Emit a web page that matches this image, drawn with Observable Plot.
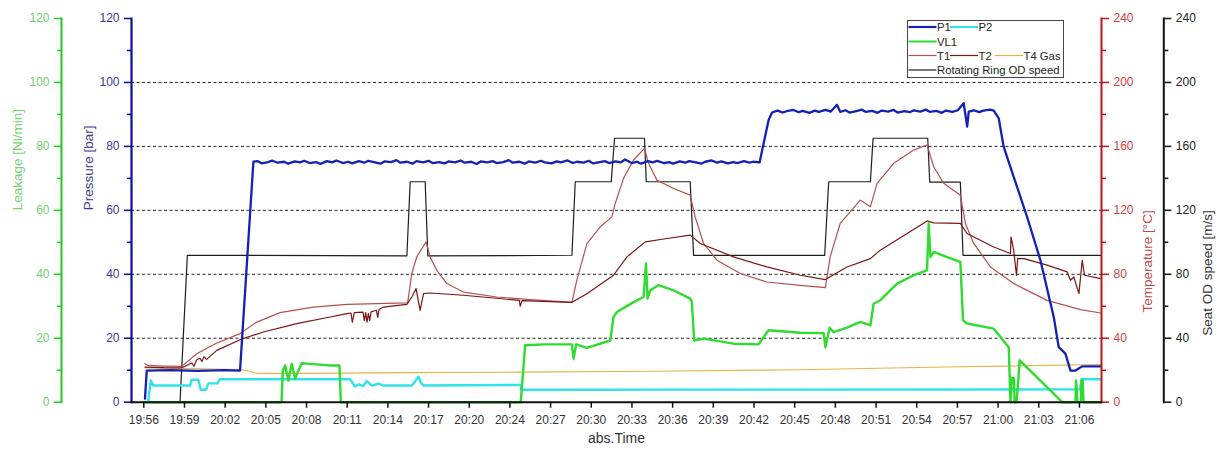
<!DOCTYPE html>
<html><head><meta charset="utf-8">
<script src="https://cdn.jsdelivr.net/npm/d3@7"></script>
<script src="https://cdn.jsdelivr.net/npm/@observablehq/plot@0.6"></script>
<style>
html,body{margin:0;padding:0;background:#fff;}
#wrap{position:relative;width:1217px;height:450px;overflow:hidden;font-family:"Liberation Sans",Arial,sans-serif;}
#legend{position:absolute;left:907px;top:20px;width:155px;height:56px;border:1px solid #444;background:#fff;}
#legend svg{display:block;}
</style></head>
<body><div id="wrap"><div id="chart"></div><div id="legend"></div></div>
<script>
// ---- tick labels / axis values ----
const xTickLabels = ["19:56","19:59","20:02","20:05","20:08","20:11","20:14","20:17","20:20","20:24","20:27","20:30","20:33","20:36","20:39","20:42","20:45","20:48","20:51","20:54","20:57","21:00","21:03","21:06"];
const tickStep = 70 / 23; // minutes between labelled ticks (19:56 → 21:06 in 23 intervals)
const xDomain = [-0.92, 71.65]; // minutes after 19:56
const pressureTicks = [0,20,40,60,80,100,120];
const leakageTicks = [0,20,40,60,80,100,120];
const temperatureTicks = [0,40,80,120,160,200,240];
const speedTicks = [0,40,80,120,160,200,240];
const gridLevels = [20,40,60,80,100];

// ---- series: [minutes after 19:56, value] ----
const p1 = [[0.09,1.1],[0.22,9.9],[2,10.0],[4,9.8],[6,10.0],[7.2,9.9],[8.2,75.2],[8.5,75.4],[8.8,74.7],[9.3,75.1],[9.6,75.6],[10.0,74.9],[10.5,75.2],[10.8,74.6],[11.3,75.3],[11.7,75.0],[12.0,75.5],[12.4,74.8],[12.9,75.1],[13.2,74.5],[13.7,75.4],[14.1,75.0],[14.4,75.6],[14.9,74.8],[15.3,75.2],[15.6,74.7],[16.1,75.4],[16.5,74.9],[16.8,75.5],[17.3,75.0],[17.7,74.6],[18.0,75.3],[18.5,75.1],[18.9,75.7],[19.2,74.9],[19.7,75.2],[20.1,74.6],[20.4,75.4],[20.9,75.0],[21.3,75.5],[21.6,74.8],[22.1,75.1],[22.5,74.7],[22.8,75.3],[23.3,75.0],[23.7,75.6],[24.0,74.9],[24.5,75.2],[24.9,74.5],[25.2,75.3],[25.7,75.0],[26.1,75.4],[26.4,74.8],[26.9,75.1],[27.3,75.7],[27.6,74.9],[28.1,75.2],[28.5,74.6],[28.8,75.3],[29.3,74.9],[29.7,75.5],[30.0,75.0],[30.5,74.7],[30.9,75.3],[31.2,75.0],[31.7,75.6],[32.1,74.8],[32.4,75.2],[32.9,74.9],[33.3,75.5],[33.6,74.7],[34.1,75.1],[34.5,75.4],[34.8,74.8],[35.3,75.3],[35.7,75.0],[36.0,75.9],[36.5,74.8],[36.9,75.2],[37.2,74.6],[37.7,75.4],[38.1,75.0],[38.4,75.5],[38.9,74.8],[39.3,75.1],[39.6,74.6],[40.1,75.3],[40.5,74.9],[40.8,75.4],[41.3,75.0],[41.7,74.6],[42.0,75.2],[42.5,75.6],[42.9,74.9],[43.2,75.3],[43.7,74.7],[44.1,75.1],[44.4,74.8],[44.9,75.4],[45.3,74.9],[45.6,75.2],[46.07,75.0],[46.75,88.3],[47.0,90.6],[47.4,91.2],[47.8,90.6],[48.1,91.0],[48.6,91.4],[49.0,90.7],[49.3,91.1],[49.8,90.5],[50.2,91.2],[50.5,90.8],[51.0,91.4],[51.4,90.9],[51.86,93.0],[52.1,90.8],[52.5,91.3],[52.8,90.6],[53.3,91.0],[53.7,91.5],[54.0,90.8],[54.5,91.1],[54.9,90.5],[55.2,91.2],[55.7,90.9],[56.1,91.4],[56.4,90.6],[56.9,91.0],[57.3,90.7],[57.6,91.3],[58.1,90.9],[58.5,91.5],[58.8,90.8],[59.3,91.1],[59.7,90.5],[60.0,91.2],[60.5,90.8],[60.9,91.3],[61.34,93.5],[61.6,86.2],[61.72,90.9],[62.1,91.3],[62.5,90.7],[62.8,91.2],[63.3,91.5],[63.59,91.2],[63.96,88.8],[64.33,79.9],[65.08,70.5],[66.08,58.0],[67.08,44.4],[68.08,26.6],[68.45,17.2],[68.95,15.2],[69.33,9.9],[69.7,9.9],[70.2,11.2],[71.6,11.2]];
const p2 = [[0.34,0.5],[0.52,6.8],[0.71,5.2],[3.46,5.2],[3.58,7.0],[4.08,7.0],[4.26,3.9],[4.66,3.9],[4.83,5.9],[5.5,5.9],[5.7,7.2],[15.43,7.2],[15.8,4.9],[16.1,5.6],[16.4,5.0],[16.68,6.6],[17.06,5.2],[17.55,5.8],[17.93,5.2],[20.05,5.2],[20.3,6.5],[20.55,8.0],[20.75,6.0],[20.92,5.2],[28.2,5.4],[28.25,3.9],[69.4,4.0],[70.05,4.0],[70.15,7.2],[71.6,7.2]];
const vl1 = [[0.1,0],[10.3,0],[10.4,9.9],[10.57,11.5],[10.82,6.8],[11.07,12.0],[11.32,7.3],[11.57,9.9],[11.82,12.2],[12.44,12.0],[13.94,11.5],[14.64,11.5],[14.74,0],[28.2,0],[28.53,17.8],[30,18.1],[32.03,18.1],[32.15,13.6],[32.35,18.1],[33.15,17.0],[34.9,19.3],[35.14,26.6],[35.4,28.2],[36.64,31.3],[37.39,32.9],[37.57,43.4],[37.69,32.4],[37.89,35.0],[38.51,36.6],[39.63,35.0],[40.88,32.4],[41.0,31.3],[41.18,19.3],[41.88,19.9],[44.12,18.3],[45.99,18.1],[46.74,22.5],[49.12,21.7],[50.86,21.6],[50.99,17.2],[51.31,23.3],[51.61,21.9],[52.61,23.3],[53.61,25.1],[54.36,24.0],[54.6,30.8],[55.1,31.9],[56.36,37.1],[57.6,39.7],[58.6,41.3],[58.72,55.9],[58.85,45.4],[59.1,47.0],[60.1,45.4],[61.09,43.9],[61.29,25.6],[61.59,24.6],[63.59,23.0],[64.09,20.4],[64.71,17.2],[64.84,0],[64.95,7.5],[65.1,7.5],[65.15,0],[65.3,0],[65.53,13.1],[68.6,0.5],[68.7,0],[69.7,0],[69.75,6.8],[69.85,0],[70.1,0],[70.15,6.8],[70.25,6.8],[70.3,0],[71.6,0]];
const t1 = [[0.09,24.1],[0.3,23],[1.5,22.6],[2.84,22.4],[3.96,30.3],[5.46,37.0],[7.2,42.9],[8.45,50.1],[10.19,56.0],[12.69,59.5],[15.19,61.2],[19.68,62.1],[19.75,62.7],[20.05,80.5],[20.42,90.9],[21.12,100.3],[21.42,90.9],[21.92,82.5],[22.67,74.2],[23.91,68.9],[26.41,65.8],[28.9,64.2],[32.03,62.5],[32.4,76.3],[33.15,99.2],[34.15,109.7],[35.02,115.9],[35.27,124.3],[35.89,140],[36.64,151.5],[37.46,158.8],[37.76,149.4],[38.39,138.9],[39.63,133.7],[40.88,129.5],[41.25,115.9],[41.88,99.3],[42.88,88.8],[44.63,80.5],[46.62,75.2],[49.12,73.1],[50.99,71.7],[51.35,90.9],[52.1,111.8],[53.6,126.4],[54.36,122.2],[54.86,136.9],[56.1,149.4],[57.6,157.7],[58.6,160.9],[59.1,147.3],[59.84,136.9],[61.09,129.5],[61.47,111.8],[62.09,99.3],[63.34,84.6],[65.08,74.2],[67.58,63.7],[70.08,57.9],[71.6,55.8]];
const t2 = [[0.09,22],[1.5,21.6],[2.84,21.5],[3.6,24.5],[3.75,22.5],[3.96,26.6],[4.2,27.5],[4.35,25.5],[4.5,28.5],[4.7,26.8],[5.46,32.4],[7.2,39.1],[8.95,43.9],[11.44,49.1],[13.94,53.3],[15.19,55.4],[15.5,55.8],[15.6,50],[15.75,56],[16.4,56.3],[16.5,51],[16.6,56],[16.7,50],[16.8,55.5],[16.9,51],[17.0,56.5],[17.4,57.5],[17.5,53],[17.6,58],[17.93,59.5],[19.68,61.2],[20.05,65.8],[20.37,71.1],[20.67,57.5],[20.93,67.9],[21.42,68.3],[23.91,66.9],[28.1,63.7],[28.16,60],[28.3,63.5],[32.03,62.5],[33.15,67.9],[35.14,79.4],[36.15,90.9],[37.52,100.3],[39.14,102.4],[40.88,104.5],[41.63,99.3],[44.12,90.9],[46.62,84.6],[49.12,79.4],[50.99,76.7],[52.61,84.6],[54.36,89.8],[55.1,95.1],[58.6,113.4],[59.1,112.2],[61.09,111.8],[61.59,105.5],[63.59,97.1],[64.84,93.0],[64.88,103.4],[65.08,95.1],[65.29,79.4],[65.38,89.8],[65.84,89.8],[67.58,85.7],[69.08,81.5],[69.33,76.3],[69.58,78.3],[69.96,67.9],[70.21,88.8],[70.38,79.4],[71.6,77.3]];
const t4 = [[0.1,21.5],[7.2,20.5],[7.8,19.5],[8.5,18.0],[12,18.0],[20,18.5],[28,18.8],[38,19.4],[49,20.3],[60,22.0],[71.6,23.6]];
const speed = [[0.1,0],[2.71,0],[3.26,91.9],[19.68,91.5],[19.93,137.9],[21.05,137.9],[21.25,91.5],[32.03,91.9],[32.28,137.9],[34.97,137.9],[35.22,165.1],[37.46,165.1],[37.59,137.9],[40.88,137.9],[41.13,91.9],[50.94,91.9],[51.24,137.9],[54.36,137.9],[54.56,165.1],[58.65,165.1],[58.8,137.6],[61.09,137.6],[61.29,91.9],[71.6,91.9]];

// ---- colours ----
const cP1 = "#1421b4", cP2 = "#2fe3e8", cVL1 = "#2fdc2f", cT1 = "#b5504e", cT2 = "#7d1313", cT4 = "#e3b34a", cSpeed = "#1e1e1e";
const leakLine = "#21c921", leakText = "#72cf72";
const presLine = "#0c0c9e", presText = "#3b3b93";
const tempLine = "#c01515", tempText = "#cf4040";
const spdLine = "#111", spdText = "#222";

const half = 120 / 240; // 0–240 axes share the 0–120 vertical scale
const xTicks = xTickLabels.map((_, i) => i * tickStep);
const minorOf = ticks => ticks.slice(1).map((v, i) => (v + ticks[i]) / 2);

const lineAt = (data, color, w, k = 1) => Plot.line(data, {x: d => d[0], y: d => d[1] * k, stroke: color, strokeWidth: w, strokeLinejoin: "round"});

const axisPair = (ticks, k, opts) => [
  Plot.axisY({ticks: ticks.map(v => v * k), tickFormat: d => String(Math.round(d / k)), tickSize: 7, tickPadding: 5, label: null, strokeWidth: 1.5, fontSize: 12, ...opts}),
  Plot.axisY({ticks: minorOf(ticks).map(v => v * k), tickSize: 4, fill: "none", label: null, strokeWidth: 1.5, anchor: opts.anchor, stroke: opts.stroke, dx: opts.dx || 0})
];

const chart = Plot.plot({
  width: 1217, height: 450,
  marginLeft: 131, marginRight: 116, marginTop: 18, marginBottom: 48.3,
  style: {fontFamily: "'Liberation Sans', Arial, sans-serif", fontSize: "12px", background: "#fff", overflow: "visible"},
  x: {domain: xDomain, type: "linear"},
  y: {domain: [0, 120]},
  marks: [
    Plot.ruleY(gridLevels, {stroke: "#222", strokeWidth: 1, strokeDasharray: "3,2.5"}),
    lineAt(speed, cSpeed, 1.2, half),
    lineAt(t4, cT4, 1.1, half),
    lineAt(p2, cP2, 2.4),
    lineAt(vl1, cVL1, 2.4),
    lineAt(t1, cT1, 1.2, half),
    lineAt(t2, cT2, 1.2, half),
    lineAt(p1, cP1, 2.3),
    // axis lines
    Plot.frame({anchor: "left", dx: -70, stroke: leakLine, strokeWidth: 2}),
    Plot.frame({anchor: "left", stroke: presLine, strokeWidth: 2.2}),
    Plot.frame({anchor: "right", stroke: tempLine, strokeWidth: 2}),
    Plot.frame({anchor: "right", dx: 62.3, stroke: spdLine, strokeWidth: 2}),
    Plot.frame({anchor: "bottom", stroke: "#111", strokeWidth: 2}),
    // y axes
    ...axisPair(leakageTicks, 1, {anchor: "left", dx: -70, stroke: leakLine, fill: leakText}),
    ...axisPair(pressureTicks, 1, {anchor: "left", stroke: presLine, fill: presText}),
    ...axisPair(temperatureTicks, half, {anchor: "right", stroke: tempLine, fill: tempText}),
    ...axisPair(speedTicks, half, {anchor: "right", dx: 62.3, stroke: spdLine, fill: spdText}),
    // x axis
    Plot.axisX({anchor: "bottom", ticks: xTicks, tickFormat: d => xTickLabels[Math.round(d / tickStep)], tickSize: 6, tickPadding: 7, stroke: "#111", fill: "#333", strokeWidth: 1.5, label: null, fontSize: 12}),
    // axis titles
    Plot.text(["Leakage [Nl/min]"], {frameAnchor: "left", dx: -114, rotate: -90, fill: leakText, fontSize: 13.5}),
    Plot.text(["Pressure [bar]"], {frameAnchor: "left", dx: -43, rotate: -90, fill: presText, fontSize: 13.5}),
    Plot.text(["Temperature [°C]"], {frameAnchor: "right", dx: 46, rotate: -90, fill: "#c24a4a", fontSize: 13.5}),
    Plot.text(["Seat OD speed [m/s]"], {frameAnchor: "right", dx: 106, rotate: -90, fill: "#333", fontSize: 13.5}),
    Plot.text(["abs.Time"], {frameAnchor: "bottom", dy: 41, fill: "#333", fontSize: 14})
  ]
});
document.getElementById("chart").appendChild(chart);

// ---- legend (inside plot area, top right) ----
const legendRows = [
  [["P1", cP1, 2.2], ["P2", cP2, 2]],
  [["VL1", cVL1, 2]],
  [["T1", cT1, 1.2], ["T2", cT2, 1.2], ["T4 Gas", cT4, 1.2]],
  [["Rotating Ring OD speed", cSpeed, 1.2]]
];
const rowY = [6, 20.5, 34.5, 49];
const itemX = [0.5, 42, 87];
const ns = "http://www.w3.org/2000/svg";
const lsvg = document.createElementNS(ns, "svg");
lsvg.setAttribute("width", 155); lsvg.setAttribute("height", 56);
lsvg.style.fontFamily = "'Liberation Sans', Arial, sans-serif";
legendRows.forEach((row, r) => {
  row.forEach(([name, color, w], i) => {
    const x0 = itemX[i];
    const ln = document.createElementNS(ns, "line");
    ln.setAttribute("x1", x0); ln.setAttribute("x2", x0 + 28);
    ln.setAttribute("y1", rowY[r]); ln.setAttribute("y2", rowY[r]);
    ln.setAttribute("stroke", color); ln.setAttribute("stroke-width", w);
    lsvg.appendChild(ln);
    const tx = document.createElementNS(ns, "text");
    tx.setAttribute("x", x0 + 28.5); tx.setAttribute("y", rowY[r]);
    tx.setAttribute("dominant-baseline", "central");
    tx.setAttribute("font-size", "11.3px"); tx.setAttribute("fill", "#222");
    tx.textContent = name;
    lsvg.appendChild(tx);
  });
});
document.getElementById("legend").appendChild(lsvg);
</script></body></html>
